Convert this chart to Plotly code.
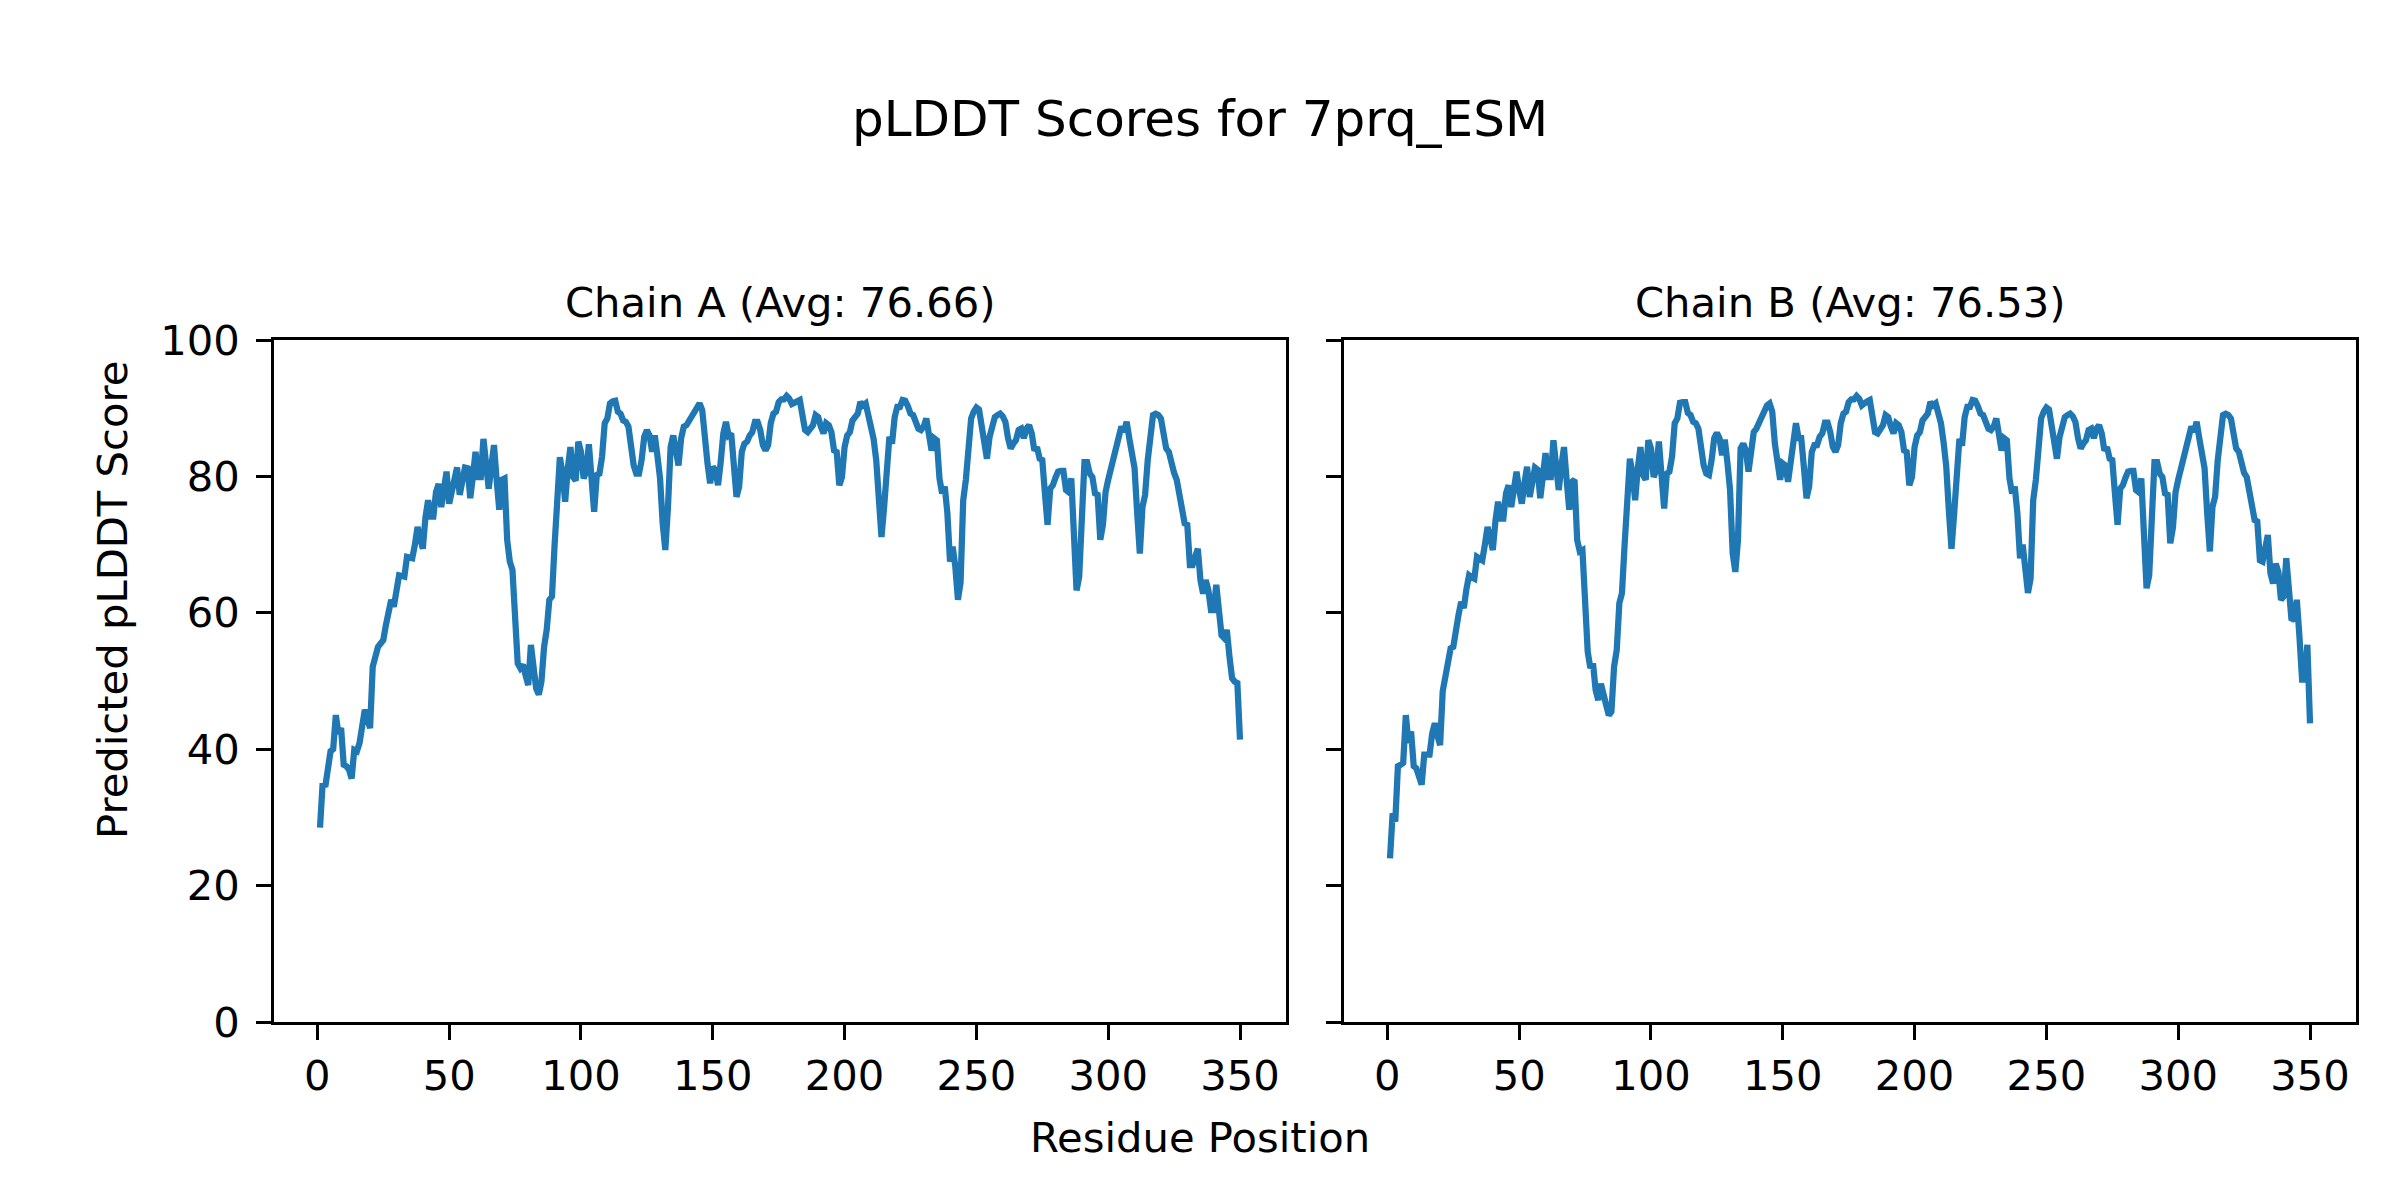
import plotly.graph_objects as go

# Residue positions
residues = list(range(1, 351))

# pLDDT scores, Chain A (residues 1..350)
chain_a = [
    28.5, 35.0, 34.5, 37.5, 39.7, 40.0, 45.0, 42.3, 43.1, 37.7,
    37.5, 37.0, 35.7, 39.9, 39.7, 40.9, 43.5, 45.8, 44.5, 43.1,
    52.1, 53.5, 55.0, 55.5, 56.0, 58.2, 59.9, 61.9, 60.9, 63.0,
    65.5, 65.4, 65.3, 68.2, 68.1, 68.0, 70.0, 72.6, 71.0, 69.4,
    74.0, 76.5, 74.1, 74.1, 77.7, 78.9, 75.5, 78.5, 80.7, 76.0,
    77.5, 79.5, 81.3, 77.3, 79.5, 81.3, 81.2, 76.8, 80.0, 83.6,
    79.9, 79.9, 85.5, 81.5, 78.2, 81.5, 84.6, 79.5, 75.1, 79.5,
    79.7, 70.7, 67.5, 66.3, 59.0, 52.6, 51.9, 52.4, 50.8, 49.4,
    55.3, 51.5, 48.9, 48.0, 49.9, 55.0, 57.5, 61.9, 62.4, 70.0,
    77.5, 82.8, 80.4, 76.3, 81.2, 84.3, 79.9, 79.4, 85.1, 83.6,
    79.7, 80.7, 84.7, 79.5, 74.8, 80.2, 80.4, 82.9, 87.8, 88.5,
    90.7, 91.0, 91.1, 89.5, 89.2, 88.2, 88.0, 87.3, 84.1, 81.6,
    80.4, 80.4, 82.4, 85.8, 86.8, 86.0, 83.6, 86.0, 83.0, 79.7,
    73.1, 69.2, 75.5, 84.3, 86.0, 84.3, 81.6, 85.6, 87.3, 87.5,
    88.2, 88.7, 89.5, 90.4, 90.7, 89.7, 84.8, 81.9, 79.0, 81.4,
    80.9, 78.7, 82.1, 86.3, 88.0, 86.0, 86.3, 81.9, 77.0, 78.5,
    83.6, 84.8, 85.1, 86.0, 86.5, 88.0, 88.0, 86.8, 84.6, 83.8,
    84.6, 87.8, 89.2, 89.5, 90.9, 91.3, 91.3, 91.8, 91.4, 90.6,
    90.9, 91.0, 91.2, 88.2, 86.8, 86.5, 87.0, 87.5, 89.0, 88.7,
    87.3, 86.3, 87.8, 87.5, 86.5, 83.8, 83.6, 78.7, 79.9, 84.3,
    86.0, 86.5, 88.2, 88.7, 89.2, 90.9, 90.4, 90.7, 89.2, 87.8,
    85.5, 82.4, 76.0, 71.1, 75.5, 80.4, 85.8, 84.8, 88.7, 90.2,
    90.2, 91.2, 91.1, 90.3, 89.2, 89.0, 88.0, 87.0, 86.8, 87.3,
    88.5, 86.5, 83.8, 85.6, 85.3, 79.7, 77.5, 78.5, 74.6, 67.5,
    69.7, 66.8, 61.9, 64.5, 76.5, 79.5, 85.0, 88.5, 89.5, 90.1,
    89.8, 87.0, 84.0, 82.6, 85.8, 87.0, 88.7, 89.0, 89.2, 88.8,
    88.0, 85.6, 84.1, 84.8, 85.3, 86.8, 87.0, 85.6, 87.0, 87.5,
    86.3, 83.8, 84.3, 82.6, 82.4, 77.5, 72.9, 78.2, 78.7, 79.8,
    80.7, 80.8, 80.8, 78.0, 77.7, 79.7, 69.7, 63.3, 65.3, 74.1,
    82.1, 82.1, 80.4, 79.9, 77.5, 77.3, 70.7, 72.9, 77.7, 79.5,
    81.0, 83.1, 84.1, 86.0, 87.3, 86.5, 88.0, 85.6, 83.6, 81.2,
    74.6, 68.7, 75.5, 77.3, 82.4, 85.8, 89.0, 89.2, 89.0, 88.5,
    86.3, 84.1, 83.6, 81.4, 80.5, 79.5, 77.5, 74.8, 73.1, 72.9,
    67.0, 67.0, 68.0, 69.4, 64.8, 62.8, 64.8, 63.3, 60.4, 60.4,
    64.1, 59.9, 56.7, 56.3, 57.5, 53.6, 50.4, 49.9, 49.7, 41.4,
]

# pLDDT scores, Chain B (residues 1..350)
chain_b = [
    24.0, 30.6, 29.4, 37.5, 37.7, 38.0, 45.0, 40.9, 42.6, 37.5,
    37.2, 36.0, 34.8, 39.2, 39.2, 39.2, 42.3, 43.8, 42.0, 40.6,
    48.5, 51.1, 53.6, 54.8, 55.0, 58.2, 59.7, 61.6, 60.7, 63.5,
    65.5, 65.2, 65.0, 68.2, 68.0, 67.7, 70.0, 72.6, 71.0, 69.2,
    73.5, 76.3, 73.8, 73.8, 77.5, 78.7, 75.5, 78.5, 80.7, 78.0,
    76.0, 79.0, 81.4, 77.0, 79.5, 81.3, 81.0, 76.8, 80.0, 83.4,
    79.9, 79.9, 85.3, 81.5, 78.0, 81.5, 84.3, 79.5, 75.1, 79.2,
    79.5, 70.7, 69.0, 69.2, 59.9, 54.3, 51.9, 52.6, 48.7, 47.2,
    49.6, 48.4, 46.5, 45.0, 45.5, 52.1, 54.5, 61.4, 62.9, 70.0,
    77.5, 82.6, 80.4, 76.5, 81.2, 84.3, 80.2, 79.5, 85.3, 84.1,
    79.9, 80.9, 85.1, 79.9, 75.3, 80.4, 80.7, 82.9, 87.8, 88.5,
    90.8, 90.9, 90.9, 89.3, 89.0, 88.0, 87.8, 87.0, 83.8, 81.6,
    80.4, 80.2, 82.4, 85.6, 86.4, 85.6, 83.1, 85.4, 82.0, 78.0,
    68.7, 66.0, 70.7, 84.1, 84.8, 83.8, 80.7, 84.8, 86.5, 87.0,
    88.0, 88.5, 89.5, 90.4, 90.7, 89.5, 84.8, 81.9, 79.5, 81.9,
    81.6, 79.2, 82.6, 86.3, 87.8, 85.6, 85.6, 81.4, 76.8, 78.5,
    83.6, 84.6, 84.6, 85.8, 86.3, 87.9, 87.9, 86.5, 84.3, 83.6,
    84.6, 87.8, 89.2, 89.5, 90.9, 91.3, 91.3, 91.8, 91.4, 90.4,
    90.8, 91.0, 91.2, 88.0, 86.5, 86.3, 87.0, 87.5, 89.0, 88.7,
    87.3, 86.3, 87.8, 87.5, 86.5, 83.8, 83.6, 78.7, 79.9, 84.3,
    86.0, 86.5, 88.2, 88.7, 89.2, 90.9, 90.4, 90.7, 89.2, 87.8,
    85.0, 81.5, 75.0, 69.4, 74.5, 80.0, 85.5, 84.5, 88.7, 90.2,
    90.2, 91.2, 91.1, 90.3, 89.2, 89.0, 88.0, 87.0, 86.8, 87.3,
    88.5, 86.5, 83.8, 85.6, 85.3, 79.7, 77.5, 78.5, 74.6, 68.0,
    70.0, 66.5, 62.9, 65.0, 76.5, 79.5, 85.0, 88.5, 89.5, 90.1,
    89.8, 87.0, 84.0, 82.6, 85.8, 87.0, 88.7, 89.0, 89.2, 88.8,
    88.0, 85.6, 84.1, 84.8, 85.3, 86.8, 87.0, 85.6, 87.0, 87.5,
    86.3, 83.8, 84.3, 82.6, 82.4, 77.5, 72.9, 78.2, 78.7, 79.8,
    80.7, 80.8, 80.8, 78.0, 77.7, 79.7, 70.0, 63.6, 65.5, 74.1,
    82.1, 82.1, 80.4, 79.9, 77.5, 77.3, 70.2, 72.5, 77.7, 79.5,
    81.0, 83.1, 84.1, 86.0, 87.3, 86.5, 88.0, 85.6, 83.6, 81.2,
    74.6, 69.0, 75.5, 77.0, 82.4, 85.8, 89.0, 89.2, 89.0, 88.5,
    86.3, 84.1, 83.6, 81.4, 80.5, 79.9, 78.0, 75.3, 73.6, 73.4,
    67.7, 67.5, 69.5, 71.4, 65.8, 64.3, 67.2, 66.0, 61.9, 62.4,
    68.0, 62.9, 58.9, 59.2, 61.9, 56.5, 50.2, 50.2, 55.3, 43.8,
]

chain_titles = ["Chain A (Avg: 76.66)", "Chain B (Avg: 76.53)"]
main_title = "pLDDT Scores for 7prq_ESM"
x_label = "Residue Position"
y_label = "Predicted pLDDT Score"
x_ticks = [0, 50, 100, 150, 200, 250, 300, 350]
y_ticks = [0, 20, 40, 60, 80, 100]

W, H = 2400, 1200
FONT = "DejaVu Sans"
LINE_COLOR = "#1f77b4"
TICK_FS = 41.7
LABEL_FS = 41.7
TITLE_FS = 50

# plot area pixel geometry (matplotlib-like)
ax_top, ax_bot = 340, 1022
axA = (274, 1286)
axB = (1344, 2356)

fig = go.Figure()
fig.add_trace(go.Scatter(x=residues, y=chain_a, mode="lines",
                         line=dict(color=LINE_COLOR, width=6.25),
                         xaxis="x", yaxis="y", showlegend=False))
fig.add_trace(go.Scatter(x=residues, y=chain_b, mode="lines",
                         line=dict(color=LINE_COLOR, width=6.25),
                         xaxis="x2", yaxis="y2", showlegend=False))

pad = (residues[-1] - residues[0]) * 0.05
xr = [residues[0] - pad, residues[-1] + pad]

common_axis = dict(
    showline=True, linecolor="black", linewidth=3.33, mirror=True,
    ticks="outside", ticklen=14.6, tickwidth=3.33, tickcolor="black",
    showgrid=False, zeroline=False, automargin=False,
    tickfont=dict(family=FONT, size=TICK_FS, color="black"),
)

ydom = [1 - ax_bot / H, 1 - ax_top / H]
fig.update_layout(
    width=W, height=H,
    margin=dict(l=0, r=0, t=0, b=0, autoexpand=False),
    paper_bgcolor="white", plot_bgcolor="white",
    font=dict(family=FONT, color="black"),
    xaxis=dict(domain=[axA[0] / W, axA[1] / W], range=xr, tickvals=x_ticks,
               anchor="y", ticklabelstandoff=0, **common_axis),
    yaxis=dict(domain=ydom, range=[0, 100], tickvals=y_ticks,
               anchor="x", ticklabelstandoff=8, **common_axis),
    xaxis2=dict(domain=[axB[0] / W, axB[1] / W], range=xr, tickvals=x_ticks,
                anchor="y2", ticklabelstandoff=0, **common_axis),
    yaxis2=dict(domain=ydom, range=[0, 100], tickvals=y_ticks,
                anchor="x2", showticklabels=False, **common_axis),
)

annotations = [
    dict(text=main_title, x=0.5, y=1 - 119 / H, xref="paper", yref="paper",
         xanchor="center", yanchor="middle", showarrow=False,
         font=dict(family=FONT, size=TITLE_FS, color="black")),
    dict(text=chain_titles[0], x=(axA[0] + axA[1]) / 2 / W, y=1 - 302 / H,
         xref="paper", yref="paper", xanchor="center", yanchor="middle",
         showarrow=False, font=dict(family=FONT, size=LABEL_FS, color="black")),
    dict(text=chain_titles[1], x=(axB[0] + axB[1]) / 2 / W, y=1 - 302 / H,
         xref="paper", yref="paper", xanchor="center", yanchor="middle",
         showarrow=False, font=dict(family=FONT, size=LABEL_FS, color="black")),
    dict(text=x_label, x=0.5, y=1 - 1137 / H, xref="paper", yref="paper",
         xanchor="center", yanchor="middle", showarrow=False,
         font=dict(family=FONT, size=LABEL_FS, color="black")),
    dict(text=y_label, x=112 / W, y=0.5, xref="paper", yref="paper",
         xanchor="center", yanchor="middle", textangle=-90, showarrow=False,
         font=dict(family=FONT, size=LABEL_FS, color="black")),
]
fig.update_layout(annotations=annotations)

fig.write_html(
    "out.html",
    config={"displayModeBar": False},
    post_script="document.body.style.margin='0';document.body.style.overflow='hidden';",
)
